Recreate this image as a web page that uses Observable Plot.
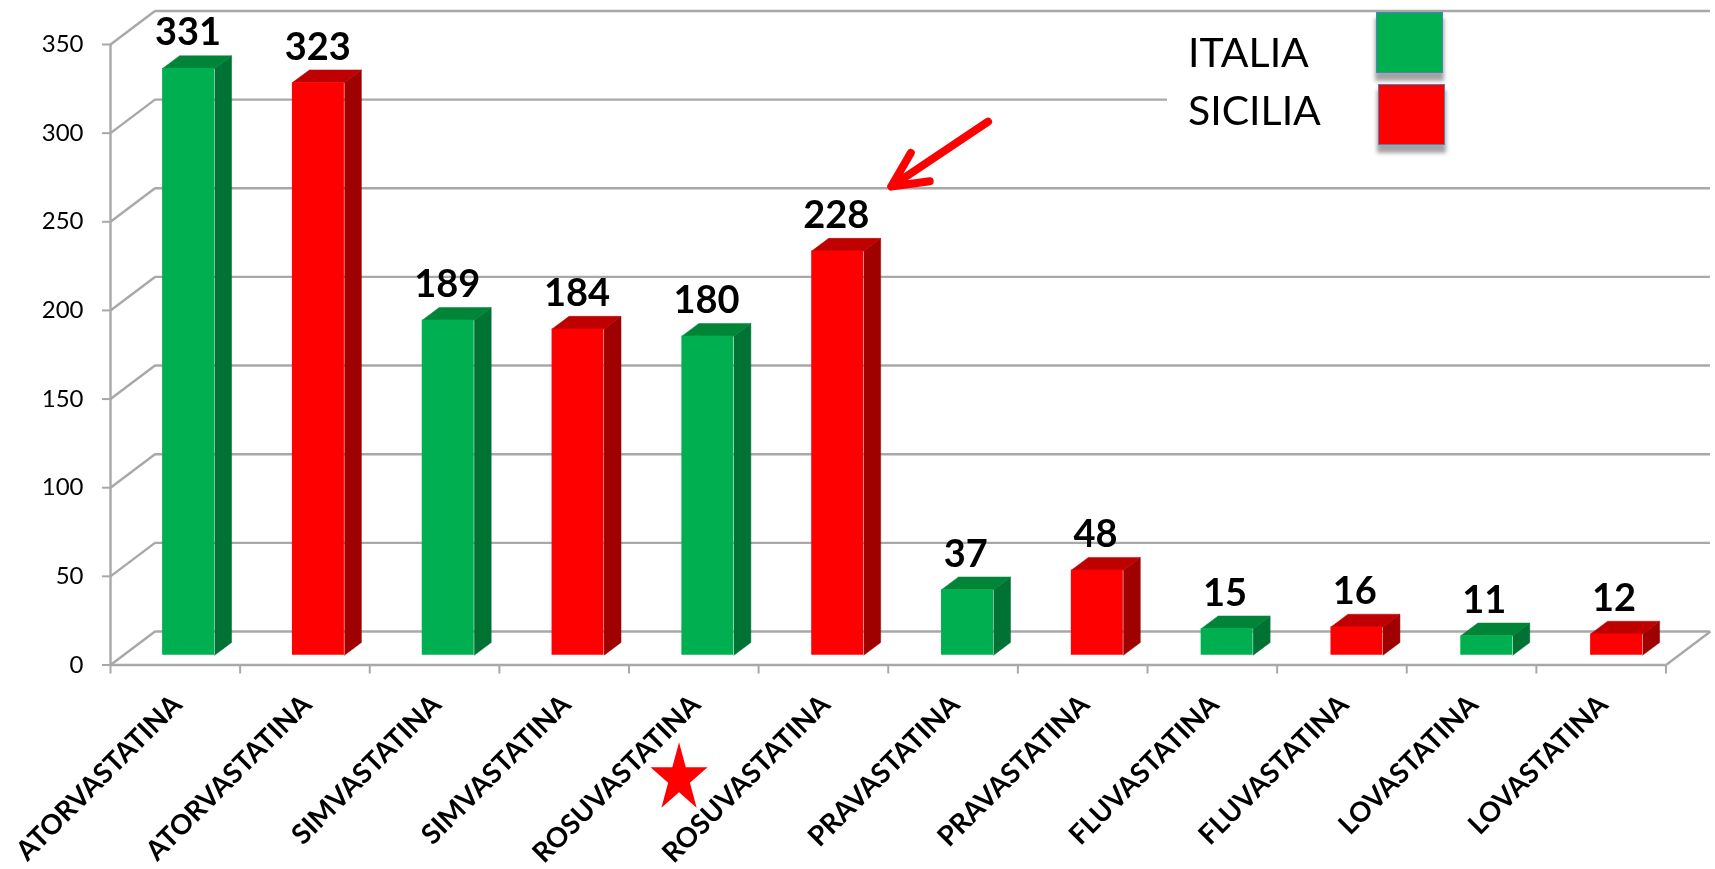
<!DOCTYPE html>
<html>
<head>
<meta charset="utf-8">
<script src="https://cdn.jsdelivr.net/npm/d3@7"></script>
<script src="https://cdn.jsdelivr.net/npm/@observablehq/plot@0.6"></script>
<style>
  html, body { margin: 0; padding: 0; background: #fff; overflow: hidden; }
  #chart { position: relative; width: 1715px; height: 869px; font-family: Lato, sans-serif; filter: blur(0.35px); }
  #chart svg { display: block; max-width: none; }
  .box { position: absolute; left: 1167px; top: 20px; width: 548px; height: 150px; background: #fff; }
  .name { position: absolute; left: 1188px; font-size: 41px; line-height: 41px; color: #000; white-space: nowrap; }
  .swatch { position: absolute; width: 65px; height: 59px; border: 1.5px solid #4f81bd;
            box-shadow: 0 7px 4px 1px rgba(0,0,0,.36); }
</style>
</head>
<body>
<div id="chart"></div>
<script>
const categories = ["ATORVASTATINA","ATORVASTATINA","SIMVASTATINA","SIMVASTATINA","ROSUVASTATINA","ROSUVASTATINA","PRAVASTATINA","PRAVASTATINA","FLUVASTATINA","FLUVASTATINA","LOVASTATINA","LOVASTATINA"];
const seriesOf   = ["ITALIA","SICILIA","ITALIA","SICILIA","ITALIA","SICILIA","ITALIA","SICILIA","ITALIA","SICILIA","ITALIA","SICILIA"];
const values     = [331,323,189,184,180,228,37,48,15,16,11,12];
const yTicks     = [0,50,100,150,200,250,300,350];
const seriesNames = ["ITALIA","SICILIA"];
const frontColors = ["#00b050","#ff0000"];
const sideColors  = ["#007233","#9f0000"];
const topColors   = ["#008538","#bf0000"];

// Pseudo-3D depths, in scale units
const WALL_X = 0.343, WALL_Y = 18.9;
const LIFT = 5.5;                 // bars stand on the floor, above the front edge
const BAR_L = 0.402, BAR_R = 0.803;
const BAR_STEP = 1.0015;
const DEPTH_X = 0.131, DEPTH_Y = 7.16;
const LABEL_Y = 12.4;

const rows = values.map((v, i) => ({i, p: i * BAR_STEP, v, cat: categories[i], series: seriesOf[i]}));
const idx = d3.range(13);

const sideFace = d => [
  {x: d.p + BAR_R, y: LIFT, k: d.i},
  {x: d.p + BAR_R + DEPTH_X, y: LIFT + DEPTH_Y, k: d.i},
  {x: d.p + BAR_R + DEPTH_X, y: LIFT + d.v + DEPTH_Y, k: d.i},
  {x: d.p + BAR_R, y: LIFT + d.v, k: d.i}
];
const topFace = d => [
  {x: d.p + BAR_L, y: LIFT + d.v, k: d.i},
  {x: d.p + BAR_L + DEPTH_X, y: LIFT + d.v + DEPTH_Y, k: d.i},
  {x: d.p + BAR_R + DEPTH_X, y: LIFT + d.v + DEPTH_Y, k: d.i},
  {x: d.p + BAR_R, y: LIFT + d.v, k: d.i}
];
const faces = (fn, colors) => seriesNames.map((s, n) =>
  Plot.line(rows.filter(d => d.series === s).flatMap(fn),
    {x: "x", y: "y", z: "k", fill: colors[n], stroke: colors[n], strokeWidth: 0.5, curve: "linear"}));

const starSymbol = {
  draw(ctx, size) {
    const rx = Math.sqrt(size / Math.PI), ry = rx * 36.3 / 30;
    for (let i = 0; i < 10; i++) {
      const a = -Math.PI / 2 + i * Math.PI / 5, f = i % 2 ? 0.382 : 1;
      const px = Math.cos(a) * rx * f, py = Math.sin(a) * ry * f;
      i ? ctx.lineTo(px, py) : ctx.moveTo(px, py);
    }
    ctx.closePath();
  }
};

const gridStyle = {stroke: "#a8a8a8", strokeWidth: 2.4, style: {filter: "drop-shadow(0 1px 1px rgba(0,0,0,.22))"}};
const shadow = "drop-shadow(3px 4px 3px rgba(0,0,0,.45))";

const chart = Plot.plot({
  width: 1715,
  height: 869,
  marginLeft: 110, marginRight: 49.5, marginTop: 44, marginBottom: 204.5,
  x: {type: "linear", domain: [0, 12]},
  y: {type: "linear", domain: [0, 350]},
  style: {fontFamily: "Lato, sans-serif", background: "#fff", overflow: "visible"},
  marks: [
    // back wall gridlines
    Plot.ruleY(yTicks, {y: d => d + WALL_Y, x1: WALL_X, x2: 12 + WALL_X, ...gridStyle}),
    // side wall diagonals and right floor edge
    Plot.link(yTicks, {x1: 0, y1: d => d, x2: WALL_X, y2: d => d + WALL_Y, ...gridStyle}),
    Plot.link([0], {x1: 12, y1: 0, x2: 12 + WALL_X, y2: WALL_Y, ...gridStyle}),
    // axes
    Plot.ruleX([0], {y1: 0, y2: 350, ...gridStyle}),
    Plot.ruleY([0], {x1: 0, x2: 12, ...gridStyle}),
    Plot.axisY({ticks: yTicks, tickSize: 8, tickPadding: 19, fontSize: 24, stroke: "#a8a8a8", strokeWidth: 2, tickFormat: d => d}),
    Plot.axisX({ticks: idx, tickSize: 9, stroke: "#a8a8a8", strokeWidth: 2, tickFormat: () => ""}),
    // bars
    ...faces(sideFace, sideColors),
    ...faces(topFace, topColors),
    Plot.rect(rows, {
      x1: d => d.p + BAR_L, x2: d => d.p + BAR_R,
      y1: LIFT, y2: d => LIFT + d.v,
      fill: "series"
    }),
    // data labels
    Plot.text(rows, {
      x: d => d.i + (BAR_L + BAR_R) / 2, y: d => LIFT + d.v + LABEL_Y,
      text: d => String(d.v), fontSize: 38, fontWeight: 700, fill: "#000",
      lineAnchor: "bottom", textAnchor: "middle", dy: -1, dx: -0.5
    }),
    // category labels
    Plot.text(rows, {
      x: d => d.i + 0.5, y: 0, text: "cat", rotate: -45, textAnchor: "end",
      fontSize: 27.5, fontWeight: 700, fill: "#000", dx: 2, dy: 35, lineAnchor: "middle"
    }),
    // annotations
    Plot.arrow([{x1: 6.77, y1: 306.5, x2: 6.023, y2: 269.9}], {
      x1: "x1", y1: "y1", x2: "x2", y2: "y2",
      stroke: "#ff0000", strokeWidth: 8, headLength: 23, headAngle: 52,
      style: {filter: shadow}
    }),
    Plot.dot([{x: 4.386, y: -64}], {
      x: "x", y: "y", symbol: starSymbol, r: 30, fill: "#ff0000", stroke: "none",
      style: {filter: shadow}
    })
  ],
  color: {domain: seriesNames, range: frontColors}
});

const root = document.getElementById("chart");
root.appendChild(chart);

// Legend, placed on a white panel over the chart as in the original slide
const box = document.createElement("div"); box.className = "box"; root.appendChild(box);
const legendText = [{t: seriesNames[0], top: 31}, {t: seriesNames[1], top: 89}];
legendText.forEach(l => {
  const e = document.createElement("div"); e.className = "name"; e.textContent = l.t; e.style.top = l.top + "px"; root.appendChild(e);
});
[{c: frontColors[0], l: 1376, t: 12}, {c: frontColors[1], l: 1377.5, t: 84}].forEach(s => {
  const e = document.createElement("div"); e.className = "swatch";
  e.style.left = s.l + "px"; e.style.top = s.t + "px"; e.style.background = s.c; root.appendChild(e);
});
</script>
</body>
</html>
